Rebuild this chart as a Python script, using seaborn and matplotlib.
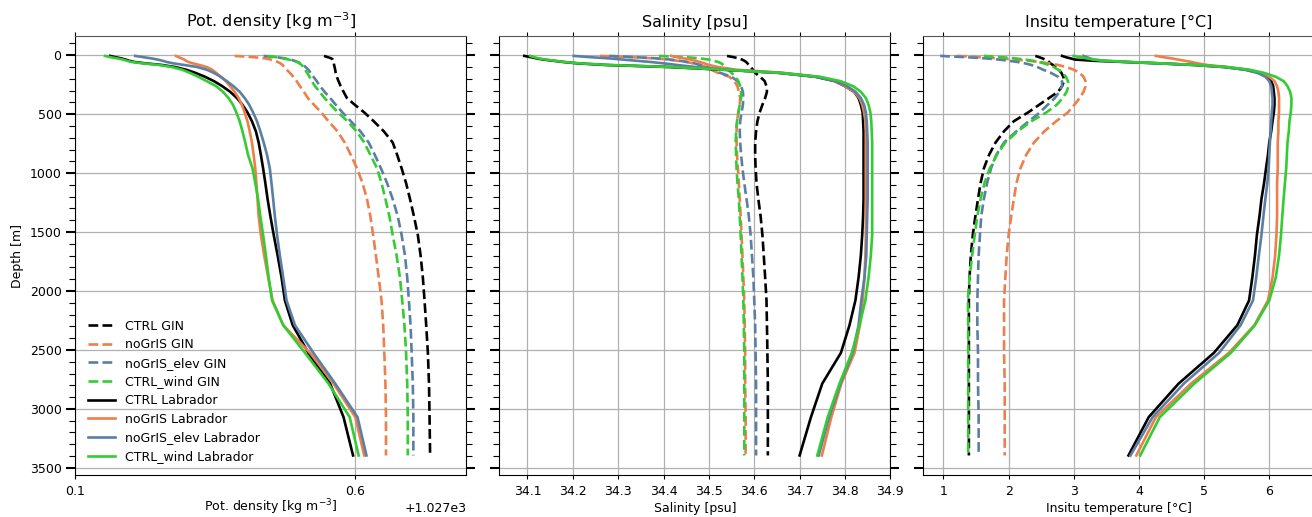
import matplotlib as mpl
mpl.use("Agg")

import matplotlib.pyplot as plt
import seaborn as sns
import pandas as pd
from matplotlib.ticker import MultipleLocator

# model levels [m]
depth = [6, 17, 27, 37, 47, 57, 69, 83, 100, 123, 150, 183, 220, 263, 310, 363, 420, 485,
         560, 645, 740, 845, 960, 1085, 1220, 1365, 1525, 1700, 1885, 2080, 2290, 2525,
         2785, 3070, 3395]

runs = ["CTRL", "noGrIS", "noGrIS_elev", "CTRL_wind"]
regions = ["GIN", "Labrador"]

# potential density minus 1027 [kg m-3]
rho_gin = {
    "CTRL": [0.545, 0.552, 0.558, 0.561, 0.562, 0.563, 0.563, 0.563, 0.564, 0.565, 0.566, 0.568,
             0.571, 0.575, 0.580, 0.586, 0.600, 0.617, 0.634, 0.652, 0.668, 0.676, 0.684, 0.692,
             0.699, 0.706, 0.713, 0.718, 0.722, 0.725, 0.728, 0.731, 0.733, 0.734, 0.735],
    "noGrIS": [0.385, 0.420, 0.440, 0.450, 0.457, 0.462, 0.467, 0.471, 0.474, 0.478, 0.484, 0.490,
               0.496, 0.502, 0.509, 0.516, 0.527, 0.540, 0.553, 0.569, 0.582, 0.593, 0.604, 0.614,
               0.622, 0.628, 0.633, 0.638, 0.643, 0.648, 0.651, 0.653, 0.655, 0.656, 0.656],
    "noGrIS_elev": [0.437, 0.460, 0.475, 0.485, 0.492, 0.498, 0.503, 0.508, 0.512, 0.517, 0.521,
                    0.526, 0.532, 0.538, 0.546, 0.556, 0.566, 0.578, 0.593, 0.610, 0.625, 0.636,
                    0.647, 0.658, 0.668, 0.677, 0.684, 0.690, 0.694, 0.697, 0.700, 0.702, 0.704,
                    0.705, 0.705],
    "CTRL_wind": [0.444, 0.460, 0.472, 0.482, 0.490, 0.496, 0.501, 0.505, 0.508, 0.511, 0.515,
                  0.519, 0.523, 0.529, 0.537, 0.546, 0.557, 0.570, 0.587, 0.603, 0.617, 0.628,
                  0.640, 0.648, 0.655, 0.662, 0.668, 0.675, 0.681, 0.685, 0.689, 0.692, 0.694,
                  0.695, 0.695],
}
rho_lab = {
    "CTRL": [0.162, 0.172, 0.182, 0.190, 0.196, 0.205, 0.225, 0.255, 0.278, 0.298, 0.315, 0.332,
             0.348, 0.363, 0.377, 0.389, 0.399, 0.408, 0.416, 0.423, 0.428, 0.432, 0.436, 0.440,
             0.444, 0.449, 0.455, 0.462, 0.469, 0.475, 0.489, 0.517, 0.556, 0.580, 0.597],
    "noGrIS": [0.280, 0.285, 0.290, 0.295, 0.298, 0.302, 0.310, 0.322, 0.335, 0.345, 0.352, 0.360,
               0.369, 0.377, 0.385, 0.392, 0.398, 0.403, 0.408, 0.412, 0.416, 0.419, 0.422, 0.424,
               0.426, 0.428, 0.432, 0.438, 0.445, 0.453, 0.472, 0.520, 0.562, 0.601, 0.617],
    "noGrIS_elev": [0.207, 0.222, 0.236, 0.247, 0.256, 0.263, 0.275, 0.295, 0.318, 0.335, 0.348,
                    0.360, 0.371, 0.383, 0.394, 0.403, 0.411, 0.418, 0.425, 0.431, 0.437, 0.443,
                    0.448, 0.451, 0.454, 0.457, 0.461, 0.466, 0.472, 0.478, 0.493, 0.526, 0.565,
                    0.605, 0.621],
    "CTRL_wind": [0.153, 0.163, 0.175, 0.185, 0.192, 0.200, 0.220, 0.250, 0.272, 0.291, 0.305,
                  0.320, 0.335, 0.352, 0.364, 0.374, 0.382, 0.388, 0.394, 0.399, 0.404, 0.409,
                  0.417, 0.422, 0.427, 0.431, 0.436, 0.441, 0.446, 0.452, 0.472, 0.511, 0.553,
                  0.591, 0.607],
}

# salinity [psu]
sal_gin = {
    "CTRL": [34.540, 34.555, 34.565, 34.573, 34.578, 34.582, 34.585, 34.588, 34.592, 34.597,
             34.602, 34.613, 34.623, 34.627, 34.628, 34.624, 34.618, 34.612, 34.607, 34.604,
             34.602, 34.602, 34.603, 34.605, 34.609, 34.614, 34.618, 34.621, 34.624, 34.627,
             34.628, 34.629, 34.630, 34.630, 34.630],
    "noGrIS": [34.260, 34.330, 34.380, 34.410, 34.430, 34.450, 34.465, 34.480, 34.495, 34.505,
               34.520, 34.545, 34.556, 34.563, 34.566, 34.569, 34.568, 34.565, 34.562, 34.561,
               34.561, 34.562, 34.564, 34.566, 34.568, 34.570, 34.572, 34.574, 34.576, 34.578,
               34.579, 34.580, 34.580, 34.581, 34.581],
    "noGrIS_elev": [34.280, 34.340, 34.385, 34.415, 34.435, 34.452, 34.468, 34.482, 34.496,
                    34.510, 34.525, 34.550, 34.563, 34.571, 34.575, 34.576, 34.575, 34.572,
                    34.569, 34.568, 34.569, 34.571, 34.574, 34.578, 34.583, 34.588, 34.592,
                    34.595, 34.598, 34.600, 34.602, 34.603, 34.604, 34.604, 34.604],
    "CTRL_wind": [34.390, 34.450, 34.480, 34.500, 34.510, 34.520, 34.527, 34.532, 34.537, 34.543,
                  34.550, 34.558, 34.565, 34.569, 34.571, 34.571, 34.568, 34.565, 34.562, 34.560,
                  34.559, 34.560, 34.561, 34.563, 34.566, 34.568, 34.570, 34.572, 34.574, 34.576,
                  34.577, 34.578, 34.578, 34.578, 34.578],
}
sal_lab = {
    "CTRL": [34.093, 34.108, 34.120, 34.135, 34.157, 34.178, 34.210, 34.273, 34.410, 34.530,
             34.655, 34.735, 34.778, 34.800, 34.820, 34.830, 34.835, 34.839, 34.840, 34.841,
             34.841, 34.841, 34.841, 34.841, 34.841, 34.840, 34.838, 34.835, 34.830, 34.823,
             34.810, 34.791, 34.750, 34.725, 34.700],
    "noGrIS": [34.417, 34.430, 34.445, 34.460, 34.470, 34.480, 34.490, 34.500, 34.520, 34.560,
               34.665, 34.740, 34.780, 34.800, 34.820, 34.832, 34.838, 34.842, 34.845, 34.846,
               34.846, 34.846, 34.846, 34.846, 34.846, 34.846, 34.846, 34.845, 34.843, 34.839,
               34.833, 34.821, 34.792, 34.770, 34.749],
    "noGrIS_elev": [34.202, 34.240, 34.280, 34.310, 34.340, 34.370, 34.400, 34.430, 34.470,
                    34.540, 34.655, 34.735, 34.780, 34.805, 34.823, 34.835, 34.842, 34.846,
                    34.848, 34.849, 34.850, 34.850, 34.850, 34.850, 34.850, 34.849, 34.848,
                    34.847, 34.843, 34.836, 34.830, 34.817, 34.790, 34.765, 34.742],
    "CTRL_wind": [34.106, 34.115, 34.125, 34.140, 34.160, 34.180, 34.215, 34.280, 34.415, 34.535,
                  34.660, 34.745, 34.790, 34.818, 34.835, 34.846, 34.852, 34.856, 34.858, 34.859,
                  34.860, 34.860, 34.860, 34.860, 34.860, 34.860, 34.860, 34.857, 34.852, 34.845,
                  34.832, 34.815, 34.788, 34.762, 34.739],
}

# in-situ temperature [degC]
tem_gin = {
    "CTRL": [2.41, 2.47, 2.52, 2.56, 2.60, 2.62, 2.64, 2.68, 2.72, 2.77, 2.81, 2.84, 2.85, 2.82,
             2.76, 2.62, 2.47, 2.30, 2.08, 1.93, 1.80, 1.70, 1.62, 1.57, 1.53, 1.49, 1.45, 1.42,
             1.40, 1.39, 1.39, 1.39, 1.39, 1.39, 1.39],
    "noGrIS": [1.21, 1.55, 1.85, 2.10, 2.30, 2.47, 2.62, 2.76, 2.88, 3.00, 3.09, 3.15, 3.18, 3.18,
               3.15, 3.09, 3.01, 2.91, 2.73, 2.55, 2.39, 2.27, 2.18, 2.12, 2.08, 2.04, 2.00, 1.97,
               1.95, 1.93, 1.93, 1.93, 1.94, 1.94, 1.94],
    "noGrIS_elev": [0.95, 1.35, 1.65, 1.85, 2.00, 2.13, 2.25, 2.35, 2.44, 2.53, 2.65, 2.76, 2.82,
                    2.82, 2.78, 2.71, 2.60, 2.48, 2.31, 2.12, 1.93, 1.81, 1.73, 1.67, 1.62, 1.58,
                    1.56, 1.54, 1.53, 1.52, 1.52, 1.53, 1.53, 1.54, 1.54],
    "CTRL_wind": [1.62, 1.90, 2.10, 2.25, 2.37, 2.46, 2.54, 2.62, 2.69, 2.76, 2.83, 2.88, 2.91,
                  2.92, 2.89, 2.83, 2.74, 2.58, 2.35, 2.14, 1.95, 1.82, 1.71, 1.63, 1.57, 1.52,
                  1.48, 1.44, 1.40, 1.375, 1.38, 1.38, 1.38, 1.38, 1.38],
}
tem_lab = {
    "CTRL": [2.82, 2.88, 2.95, 3.02, 3.30, 3.75, 4.30, 4.85, 5.30, 5.65, 5.85, 5.97, 6.03, 6.06,
             6.07, 6.08, 6.08, 6.07, 6.05, 6.03, 6.00, 5.98, 5.95, 5.92, 5.88, 5.85, 5.81, 5.78,
             5.74, 5.69, 5.51, 5.15, 4.61, 4.15, 3.84],
    "noGrIS": [4.26, 4.38, 4.50, 4.60, 4.70, 4.80, 4.90, 5.05, 5.35, 5.65, 5.87, 6.00, 6.08, 6.12,
               6.14, 6.15, 6.15, 6.15, 6.14, 6.14, 6.13, 6.13, 6.13, 6.12, 6.12, 6.12, 6.11, 6.09,
               6.05, 5.98, 5.77, 5.38, 4.80, 4.26, 3.96],
    "noGrIS_elev": [3.15, 3.20, 3.25, 3.30, 3.45, 3.80, 4.30, 4.85, 5.30, 5.62, 5.82, 5.94, 6.00,
                    6.03, 6.04, 6.05, 6.05, 6.04, 6.03, 6.02, 6.01, 6.00, 5.99, 5.97, 5.94, 5.91,
                    5.88, 5.84, 5.80, 5.75, 5.56, 5.23, 4.69, 4.21, 3.87],
    "CTRL_wind": [3.00, 3.10, 3.20, 3.30, 3.50, 3.85, 4.35, 4.90, 5.35, 5.70, 5.92, 6.10, 6.22,
                  6.28, 6.32, 6.34, 6.34, 6.33, 6.31, 6.30, 6.28, 6.27, 6.26, 6.24, 6.22, 6.20,
                  6.18, 6.15, 6.10, 6.00, 5.78, 5.41, 4.85, 4.32, 4.02],
}

colors = {"CTRL": "black", "noGrIS": "#ec7f4b", "noGrIS_elev": "#5b7fa3", "CTRL_wind": "#33cc33"}

plt.rcParams.update({
    "font.family": "DejaVu Sans",
    "font.size": 9,
    "axes.titlesize": 11.5,
})

fig = plt.figure(figsize=(13.12, 5.17), dpi=100)
left_edges = [0.0575, 0.3806, 0.7037]
axes = [fig.add_axes([l, 0.0803, 0.298, 0.851]) for l in left_edges]

panels = [
    (rho_gin, rho_lab, 1027.0, "Pot. density [kg m$^{-3}$]"),
    (sal_gin, sal_lab, 0.0, "Salinity [psu]"),
    (tem_gin, tem_lab, 0.0, "Insitu temperature [°C]"),
]

for ax, (gin, lab, offset, name) in zip(axes, panels):
    for region, data, ls in [("GIN", gin, "--"), ("Labrador", lab, "-")]:
        for run in runs:
            df = pd.DataFrame({"depth": depth, "value": [v + offset for v in data[run]]})
            sns.lineplot(data=df, x="value", y="depth", orient="y", sort=False, ax=ax,
                         color=colors[run], linestyle=ls, linewidth=1.9,
                         label=f"{run} {region}")
    ax.set_title(name)
    ax.set_xlabel(name, labelpad=3)
    ax.set_ylabel("")
    ax.grid(True, color="#b0b0b0", linewidth=0.9)
    ax.set_ylim(3565, -167)
    ax.yaxis.set_major_locator(MultipleLocator(500))
    ax.yaxis.set_minor_locator(MultipleLocator(100))
    ax.tick_params(axis="y", which="major", direction="out", length=6.5, width=1.5,
                   left=True, right=True)
    ax.tick_params(axis="y", which="minor", direction="out", length=4, width=0.8,
                   left=True, right=True)
    ax.tick_params(axis="x", which="major", direction="out", length=3, width=0.8,
                   top=True, bottom=True)
    ax.spines["top"].set_color("#555555")
    if ax is not axes[0]:
        ax.tick_params(axis="y", labelleft=False)
        ax.get_legend().remove()

axes[0].set_xlabel(panels[0][3], labelpad=0)
axes[0].set_ylabel("Depth [m]")
axes[0].set_xlim(1027.1, 1027.8)
axes[0].set_xticks([1027.1, 1027.6])
axes[1].set_xlim(34.038, 34.9)
axes[1].set_xticks([34.1, 34.2, 34.3, 34.4, 34.5, 34.6, 34.7, 34.8, 34.9])
axes[2].set_xlim(0.69, 6.69)
axes[2].set_xticks([1, 2, 3, 4, 5, 6])

axes[0].legend(loc="lower left", frameon=False, fontsize=9, handlelength=2.2,
               borderaxespad=0.6, labelspacing=0.45)

fig.savefig("out.png", dpi=100)
